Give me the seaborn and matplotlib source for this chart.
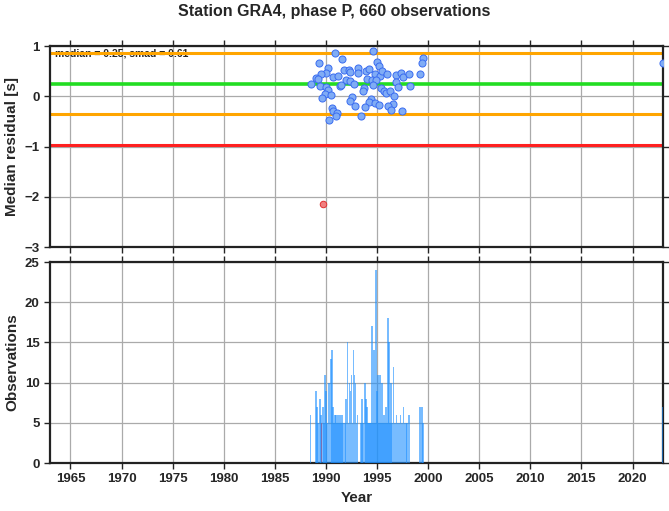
import numpy as np
import pandas as pd
import seaborn as sns
import matplotlib
matplotlib.use('Agg')
import matplotlib.pyplot as plt

# residuals per event (year, median residual in s)
res_year = [1990.9, 1994.6, 1991.6, 1989.3, 1995.0, 1995.2, 1999.5, 1999.4, 1990.2, 1990.0,
            1989.5, 1989.0, 1989.2, 1990.7, 1991.2, 1991.8, 1992.3, 1992.4, 1993.1, 1993.1,
            1993.9, 1994.2, 1994.8, 1995.3, 1995.5, 1996.0, 1996.9, 1997.3, 1997.5, 1998.1,
            1999.2, 1992.0, 1992.4, 1992.7, 1994.0, 1994.5, 1994.9, 1994.6, 1988.5, 1989.4,
            1990.0, 1990.2, 1991.4, 1991.5, 1993.7, 1993.6, 1995.4, 1995.7, 1995.9, 1996.3,
            1996.9, 1997.1, 1998.2, 1989.9, 1989.6, 1990.5, 1992.6, 1992.4, 1994.4, 1994.2,
            1994.8, 1995.2, 1996.7, 1996.6, 1996.1, 1996.4, 1992.8, 1993.8, 1990.6, 1990.7,
            1991.1, 1991.0, 1990.3, 1993.4, 1997.4, 2023.0]
res_val = [0.87, 0.90, 0.75, 0.67, 0.68, 0.61, 0.77, 0.67, 0.57, 0.47,
           0.44, 0.37, 0.34, 0.39, 0.41, 0.52, 0.52, 0.48, 0.57, 0.47,
           0.51, 0.54, 0.44, 0.41, 0.50, 0.44, 0.42, 0.47, 0.39, 0.45,
           0.44, 0.33, 0.30, 0.25, 0.35, 0.32, 0.33, 0.23, 0.25, 0.21,
           0.19, 0.13, 0.21, 0.23, 0.16, 0.11, 0.17, 0.11, 0.07, 0.11,
           0.28, 0.19, 0.21, 0.05, -0.03, 0.03, -0.01, -0.09, -0.05, -0.11,
           -0.13, -0.17, 0.00, -0.15, -0.20, -0.27, -0.19, -0.21, -0.23, -0.30,
           -0.33, -0.40, -0.47, -0.39, -0.30, 0.66]
out_year = [1989.7]
out_val = [-2.14]

# observations per bin
obs_year = [1988.5, 1989.0, 1989.1, 1989.4, 1989.5, 1989.7, 1989.9, 1990.0, 1990.3, 1990.5,
            1990.6, 1990.7, 1990.9, 1991.0, 1991.2, 1991.4, 1991.6, 1992.0, 1992.1, 1992.3,
            1992.4, 1992.5, 1992.7, 1992.8, 1992.9, 1993.1, 1993.5, 1993.6, 1993.8, 1993.9,
            1994.0, 1994.2, 1994.4, 1994.5, 1994.7, 1994.9, 1995.0, 1995.1, 1995.3, 1995.5,
            1995.7, 1995.9, 1996.1, 1996.2, 1996.4, 1996.6, 1996.9, 1997.1, 1997.3, 1997.6,
            1997.8, 1998.1, 1999.2, 1999.4, 1999.5,
            1989.2, 1989.8, 1990.1, 1990.8, 1991.1, 1991.3, 1991.5, 1991.7, 1991.9, 1992.2,
            1992.6, 1993.0, 1993.4, 1994.1, 1994.3, 1994.6, 1994.8, 1995.2, 1995.4, 1995.6,
            1995.8, 1996.0, 1996.3, 1996.5, 1996.7, 1996.8, 1997.0, 1997.2, 1997.4, 1997.5,
            1997.7, 1997.9, 2023.0]
obs_count = [6, 9, 7, 8, 6, 7, 11, 9, 10, 13,
             14, 7, 6, 6, 6, 6, 6, 8, 15, 10,
             9, 11, 14, 11, 10, 6, 8, 5, 10, 8,
             7, 5, 5, 17, 14, 24, 9, 11, 11, 10,
             6, 7, 18, 15, 10, 12, 6, 5, 6, 7,
             5, 6, 7, 7, 5,
             5, 5, 5, 5, 5, 5, 5, 5, 5, 5,
             5, 5, 5, 5, 5, 5, 5, 5, 5, 5,
             5, 5, 5, 5, 5, 5, 5, 5, 5, 5,
             5, 5, 7]
red_year = [1989.6]
red_count = [5]

median, smad = 0.25, 0.61

sns.set_style('white')
plt.rcParams['font.family'] = ['Liberation Sans', 'DejaVu Sans']
plt.rcParams['font.weight'] = 'bold'

fig = plt.figure(figsize=(6.69, 5.11), dpi=100)
ax1 = fig.add_axes([0.0747, 0.5166, 0.9166, 0.3933])
ax2 = fig.add_axes([0.0747, 0.0939, 0.9166, 0.3933])

for ax in [ax1, ax2]:
    ax.set_xlim(1963, 2023)
    ax.set_xticks(range(1965, 2021, 5))
    ax.grid(True, color='#aaaaaa', lw=0.9)
    ax.set_axisbelow(True)
    for s in ax.spines.values():
        s.set_color('#222222')
        s.set_linewidth(1.6)
    ax.tick_params(axis='both', length=4, width=1, labelsize=9.5, direction='out',
                   right=True, top=True, left=True, bottom=True)

# top panel
ax1.set_ylim(-3, 1)
ax1.set_yticks(range(-3, 2))
ax1.set_xticklabels([])
ax1.text(1963.5, 0.86, 'median = %.2f, smad = %.2f' % (median, smad), fontsize=7.5,
         fontweight='bold', va='center', ha='left', zorder=1)
ax1.axhline(median + smad, color='#ffa500', lw=2.2, zorder=2)
ax1.axhline(median, color='#22dd22', lw=2.6, zorder=2)
ax1.axhline(median - smad, color='#ffa500', lw=2.2, zorder=2)
ax1.axhline(median - 2 * smad, color='#ff2020', lw=2.2, zorder=2)
df = pd.DataFrame({'year': res_year, 'res': res_val})
sns.scatterplot(data=df, x='year', y='res', ax=ax1, s=26, color='#80acf5',
                edgecolor='#3a6cf0', linewidth=0.7, zorder=3)
sns.scatterplot(x=out_year, y=out_val, ax=ax1, s=22, color='#f08080',
                edgecolor='#e03030', linewidth=0.7, zorder=3)
ax1.set_xlabel('')
ax1.set_ylabel('Median residual [s]', fontsize=11, fontweight='bold')

# bottom panel
ax2.set_ylim(0, 25)
ax2.set_yticks(range(0, 26, 5))
ax2.bar(red_year, red_count, width=0.12, color='#ff4040', lw=0, zorder=2)
ax2.bar(obs_year, obs_count, width=0.17, color='#1e90ff', alpha=0.6, lw=0, zorder=3)
ax2.set_xlabel('Year', fontsize=11, fontweight='bold')
ax2.set_ylabel('Observations', fontsize=11, fontweight='bold')

fig.suptitle('Station GRA4, phase P, 660 observations', fontsize=11.5,
             fontweight='bold', y=0.992)
fig.savefig('out.png', dpi=100)
